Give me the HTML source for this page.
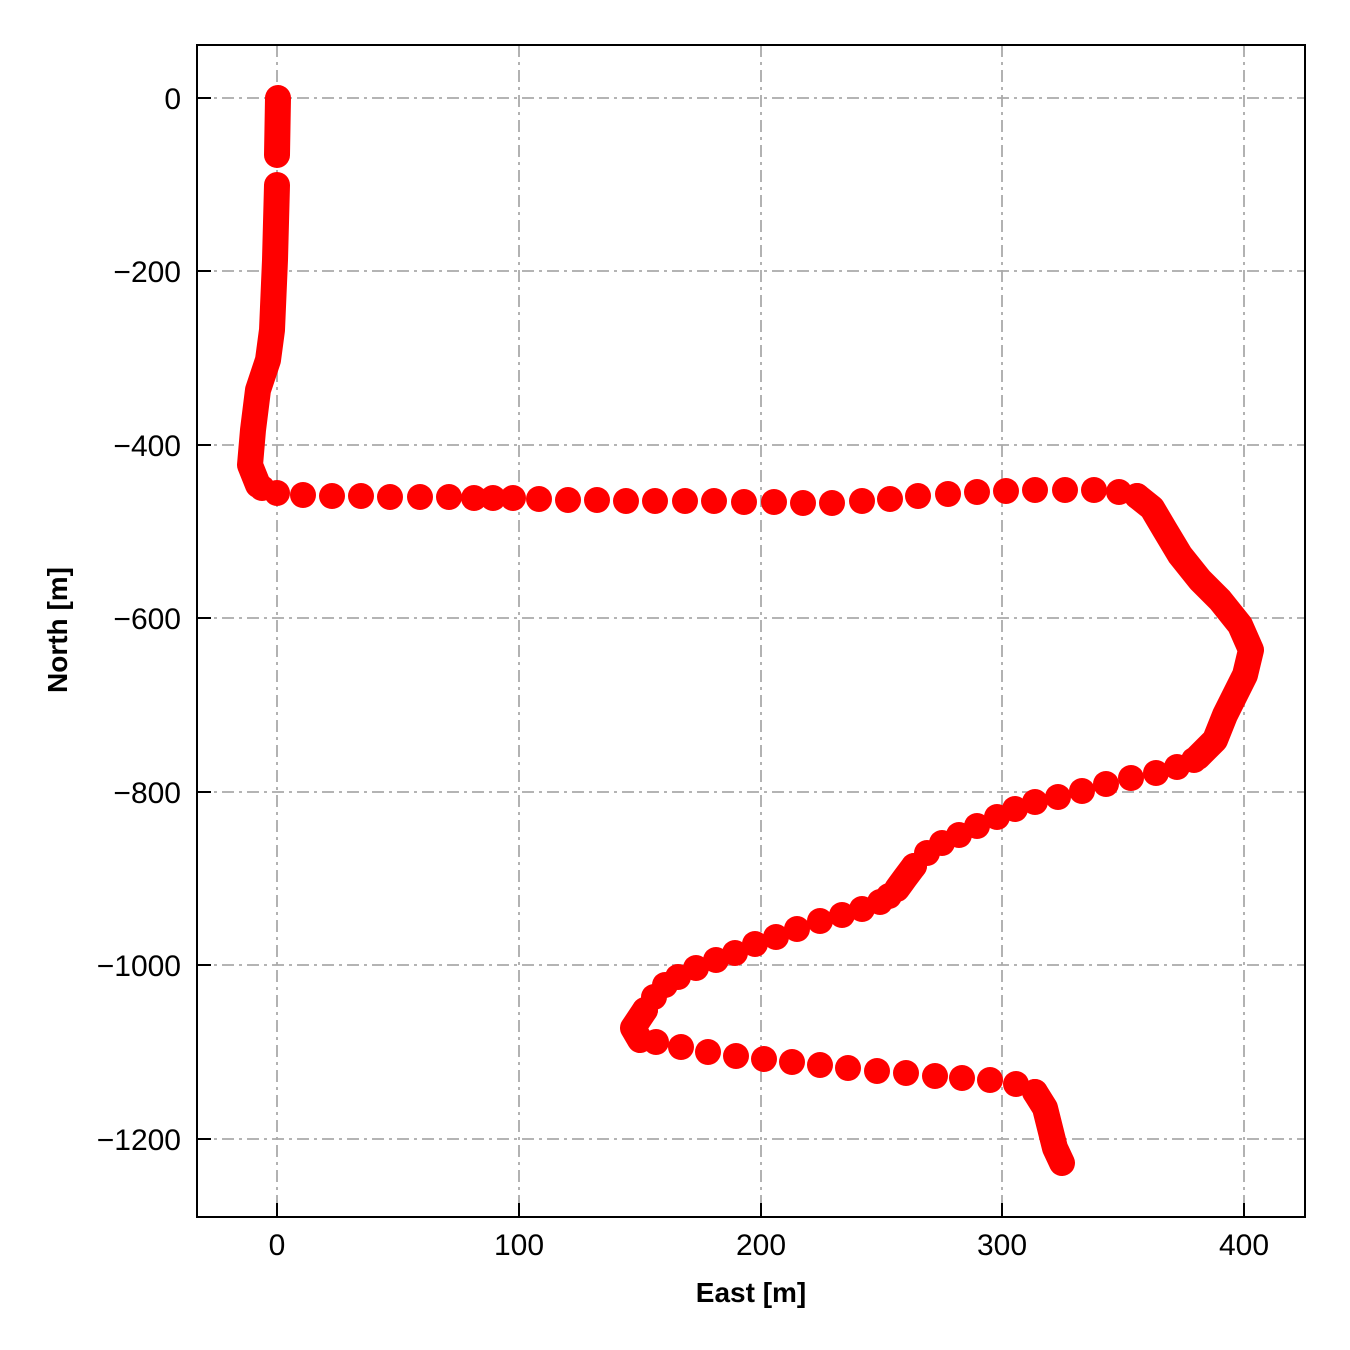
<!DOCTYPE html>
<html><head><style>body{margin:0;background:#fff}svg{display:block}text{font-family:"Liberation Sans",sans-serif}</style></head><body>
<svg width="1350" height="1350" xmlns="http://www.w3.org/2000/svg">
<rect width="1350" height="1350" fill="#fff"/>
<g stroke="#aaaaaa" stroke-width="1.8" stroke-dasharray="12,5,3,5" fill="none">
<line x1="277" y1="45" x2="277" y2="1217"/><line x1="519" y1="45" x2="519" y2="1217"/><line x1="761" y1="45" x2="761" y2="1217"/><line x1="1002" y1="45" x2="1002" y2="1217"/><line x1="1244" y1="45" x2="1244" y2="1217"/>
<line x1="197" y1="98" x2="1305" y2="98"/><line x1="197" y1="271" x2="1305" y2="271"/><line x1="197" y1="445" x2="1305" y2="445"/><line x1="197" y1="618" x2="1305" y2="618"/><line x1="197" y1="792" x2="1305" y2="792"/><line x1="197" y1="965" x2="1305" y2="965"/><line x1="197" y1="1139" x2="1305" y2="1139"/>
</g>
<g stroke="#f00" stroke-width="26" stroke-linecap="round" stroke-linejoin="round" fill="none">
<polyline points="278,98 277,155"/>
<polyline points="277,185 275,260 272,330 268,360 258,390 253,430 250,465 258,485"/>
<polyline points="1137,496 1152,508 1165,530 1180,555 1200,580 1220,600 1240,625 1251,650 1245,675 1235,695 1225,715 1215,740 1198,757"/>
<polyline points="645,1010 633,1028 640,1040"/>
<polyline points="1035,1092 1045,1108 1050,1128 1055,1148 1062,1163"/>
<polyline points="914,866 905,878 897,889"/>
</g>
<g fill="#f00">
<circle cx="262" cy="488" r="13"/><circle cx="277" cy="493" r="13"/><circle cx="303" cy="495" r="13"/><circle cx="332" cy="496" r="13"/><circle cx="361" cy="496" r="13"/><circle cx="390" cy="497" r="13"/><circle cx="420" cy="497" r="13"/><circle cx="449" cy="497" r="13"/><circle cx="474" cy="498" r="13"/><circle cx="493" cy="498" r="13"/><circle cx="513" cy="498" r="13"/><circle cx="539" cy="499" r="13"/><circle cx="568" cy="500" r="13"/><circle cx="597" cy="500" r="13"/><circle cx="626" cy="501" r="13"/><circle cx="655" cy="501" r="13"/><circle cx="685" cy="501" r="13"/><circle cx="714" cy="501" r="13"/><circle cx="744" cy="502" r="13"/><circle cx="774" cy="502" r="13"/><circle cx="803" cy="503" r="13"/><circle cx="832" cy="503" r="13"/><circle cx="862" cy="501" r="13"/><circle cx="890" cy="499" r="13"/><circle cx="918" cy="496" r="13"/><circle cx="948" cy="494" r="13"/><circle cx="977" cy="492" r="13"/><circle cx="1006" cy="491" r="13"/><circle cx="1035" cy="490" r="13"/><circle cx="1065" cy="490" r="13"/><circle cx="1094" cy="490" r="13"/><circle cx="1119" cy="492" r="13"/><circle cx="1137" cy="496" r="13"/>
<circle cx="1194" cy="760" r="13"/><circle cx="1177" cy="767" r="13"/><circle cx="1156" cy="773" r="13"/><circle cx="1131" cy="778" r="13"/><circle cx="1106" cy="784" r="13"/><circle cx="1082" cy="791" r="13"/><circle cx="1058" cy="797" r="13"/><circle cx="1035" cy="802" r="13"/><circle cx="1015" cy="809" r="13"/><circle cx="997" cy="817" r="13"/><circle cx="977" cy="826" r="13"/><circle cx="959" cy="835" r="13"/><circle cx="942" cy="843" r="13"/><circle cx="927" cy="853" r="13"/><circle cx="914" cy="866" r="13"/><circle cx="889" cy="896" r="13"/><circle cx="880" cy="902" r="13"/><circle cx="862" cy="909" r="13"/><circle cx="842" cy="915" r="13"/><circle cx="820" cy="921" r="13"/><circle cx="797" cy="929" r="13"/><circle cx="776" cy="937" r="13"/><circle cx="755" cy="944" r="13"/><circle cx="735" cy="953" r="13"/><circle cx="716" cy="960" r="13"/><circle cx="696" cy="968" r="13"/><circle cx="678" cy="977" r="13"/><circle cx="665" cy="985" r="13"/><circle cx="654" cy="997" r="13"/><circle cx="645" cy="1010" r="13"/>
<circle cx="656" cy="1042" r="13"/><circle cx="681" cy="1047" r="13"/><circle cx="708" cy="1052" r="13"/><circle cx="736" cy="1056" r="13"/><circle cx="764" cy="1059" r="13"/><circle cx="792" cy="1062" r="13"/><circle cx="820" cy="1065" r="13"/><circle cx="848" cy="1068" r="13"/><circle cx="877" cy="1071" r="13"/><circle cx="906" cy="1073" r="13"/><circle cx="935" cy="1076" r="13"/><circle cx="962" cy="1078" r="13"/><circle cx="990" cy="1080" r="13"/><circle cx="1016" cy="1084" r="13"/><circle cx="1035" cy="1092" r="13"/>
</g>
<g stroke="#000" stroke-width="2" fill="none">
<rect x="197" y="45" width="1108" height="1172"/>
<path d="M277 1217v-14M519 1217v-14M761 1217v-14M1002 1217v-14M1244 1217v-14M197 98h14M197 271h14M197 445h14M197 618h14M197 792h14M197 965h14M197 1139h14"/>
</g>
<g font-size="30" fill="#000">
<g text-anchor="middle"><text x="277" y="1255">0</text><text x="519" y="1255">100</text><text x="761" y="1255">200</text><text x="1002" y="1255">300</text><text x="1244" y="1255">400</text></g>
<g text-anchor="end"><text x="181" y="109">0</text><text x="181" y="282">−200</text><text x="181" y="456">−400</text><text x="181" y="629">−600</text><text x="181" y="803">−800</text><text x="181" y="976">−1000</text><text x="181" y="1150">−1200</text></g>
<text x="751" y="1302" text-anchor="middle" font-weight="bold" font-size="28">East [m]</text>
<text transform="translate(67,630) rotate(-90)" text-anchor="middle" font-weight="bold" font-size="28">North [m]</text>
</g>
</svg>
</body></html>
